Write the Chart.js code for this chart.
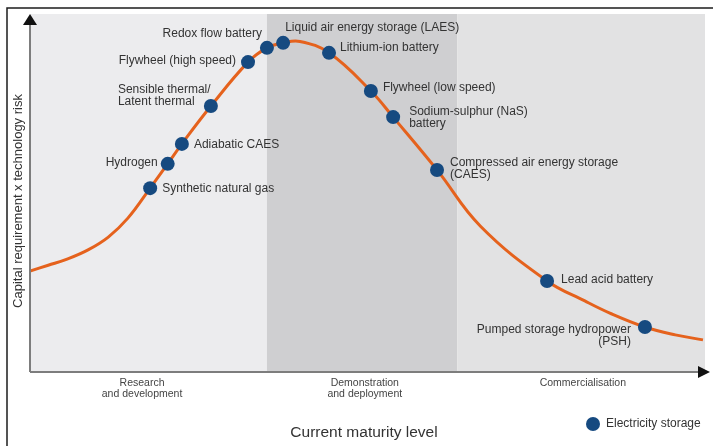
<!DOCTYPE html>
<html>
<head>
<meta charset="utf-8">
<title>Electricity storage maturity curve</title>
<script src="https://cdn.jsdelivr.net/npm/chart.js@4"></script>
<style>
  html, body { margin: 0; padding: 0; background: #fff; }
  canvas { display: block; }
</style>
</head>
<body>
<canvas id="maturityChart" width="713" height="446"></canvas>
<script>
// technologies placed on the curve (maturity 0-100, capital x risk 0-100)
const technologies = [
  'Synthetic natural gas',
  'Hydrogen',
  'Adiabatic CAES',
  'Sensible thermal/\nLatent thermal',
  'Flywheel (high speed)',
  'Redox flow battery',
  'Liquid air energy storage (LAES)',
  'Lithium-ion battery',
  'Flywheel (low speed)',
  'Sodium-sulphur (NaS)\nbattery',
  'Compressed air energy storage\n(CAES)',
  'Lead acid battery',
  'Pumped storage hydropower\n(PSH)'
]
const maturity = [17.8, 20.4, 22.5, 26.8, 32.3, 35.1, 37.5, 44.3, 50.5, 53.8, 60.3, 76.6, 91.1]
const capitalRisk = [51.5, 58.3, 63.9, 74.5, 86.8, 90.8, 92.2, 89.4, 78.7, 71.4, 56.6, 25.5, 12.6]

// the orange maturity curve
const curveMaturity = [
  0, 2.7, 5.6, 8.6, 11.6, 14.5, 17.8, 20.4, 22.5, 26.8, 32.3, 35.1, 37.5, 40.0,
  44.3, 50.5, 53.8, 60.3, 66.7, 76.6, 82.2, 85.9, 91.1, 95.6, 99.7
]
const curveCapitalRisk = [
  28.3, 29.9, 31.7, 34.2, 37.8, 43.1, 51.5, 58.3, 63.9, 74.5, 86.8, 90.8, 92.2, 92.6,
  89.4, 78.7, 71.4, 56.6, 40.9, 25.5, 19.9, 16.5, 12.6, 10.4, 9.0
]

// maturity stages along the x axis
const stages = ['Research\nand development', 'Demonstration\nand deployment', 'Commercialisation']
const stageEdges = [0, 35.1, 63.3, 100]
const stageLabelAt = [16.6, 49.6, 81.9]

const xTitle = 'Current maturity level'
const yTitle = 'Capital requirement x technology risk'
const legendLabel = 'Electricity storage'

const FONT = '"Liberation Sans", Arial, sans-serif'
const NAVY = '#164a80'
const ORANGE = '#e5621d'
const stageColors = ['#ececee', '#cfcfd1', '#e2e2e3']

// where each technology label sits relative to its dot
const labelSpots = [
  { dx: 12, dy: 1, align: 'left' },
  { dx: -10, dy: -1, align: 'right' },
  { dx: 12, dy: 1, align: 'left' },
  { dx: -93, dy: -16, align: 'left' },
  { dx: -12, dy: -1, align: 'right' },
  { dx: -5, dy: -14, align: 'right' },
  { dx: 2, dy: -15, align: 'left' },
  { dx: 11, dy: -5, align: 'left' },
  { dx: 12, dy: -3, align: 'left' },
  { dx: 16, dy: -5, align: 'left' },
  { dx: 13, dy: -7, align: 'left' },
  { dx: 14, dy: -1, align: 'left' },
  { dx: -14, dy: 3, align: 'right' }
]

function drawLines(ctx, text, x, y, lineHeight) {
  text.split('\n').forEach((line, i) => ctx.fillText(line, x, y + i * lineHeight))
}

// shaded stage bands behind the curve
const stageBands = {
  id: 'stageBands',
  beforeDatasetsDraw(chart) {
    const { ctx, chartArea, scales } = chart
    ctx.save()
    for (let i = 0; i < stages.length; i++) {
      const x0 = scales.x.getPixelForValue(stageEdges[i])
      const x1 = scales.x.getPixelForValue(stageEdges[i + 1])
      ctx.fillStyle = stageColors[i]
      ctx.fillRect(x0, chartArea.top - 1, x1 - x0, chartArea.bottom - chartArea.top + 1)
    }
    ctx.restore()
  }
}

// axes with arrows, titles, stage names, dot labels, legend and frame
const decorations = {
  id: 'decorations',
  afterDatasetsDraw(chart) {
    const { ctx, chartArea, scales } = chart
    const left = chartArea.left
    const bottom = chartArea.bottom
    ctx.save()

    // axis lines
    ctx.strokeStyle = '#7d7d7d'
    ctx.lineWidth = 2
    ctx.beginPath()
    ctx.moveTo(left, bottom)
    ctx.lineTo(left, chartArea.top + 9)
    ctx.moveTo(left, bottom)
    ctx.lineTo(chartArea.right - 6, bottom)
    ctx.stroke()

    ctx.fillStyle = '#111'
    ctx.beginPath()
    ctx.moveTo(left, chartArea.top - 1)
    ctx.lineTo(left - 7, chartArea.top + 10)
    ctx.lineTo(left + 7, chartArea.top + 10)
    ctx.closePath()
    ctx.fill()
    ctx.beginPath()
    ctx.moveTo(chartArea.right + 5, bottom)
    ctx.lineTo(chartArea.right - 7, bottom - 6)
    ctx.lineTo(chartArea.right - 7, bottom + 6)
    ctx.closePath()
    ctx.fill()

    // technology labels
    ctx.fillStyle = '#333'
    ctx.font = '12px ' + FONT
    ctx.textBaseline = 'middle'
    technologies.forEach((name, i) => {
      const spot = labelSpots[i]
      const px = scales.x.getPixelForValue(maturity[i])
      const py = scales.y.getPixelForValue(capitalRisk[i])
      ctx.textAlign = spot.align
      drawLines(ctx, name, px + spot.dx, py + spot.dy, 12)
    })

    // stage names under the x axis
    ctx.fillStyle = '#444'
    ctx.font = '10.5px ' + FONT
    ctx.textAlign = 'center'
    stages.forEach((name, i) => {
      drawLines(ctx, name, scales.x.getPixelForValue(stageLabelAt[i]), bottom + 11, 11)
    })

    // axis titles
    ctx.fillStyle = '#333'
    ctx.font = '15.5px ' + FONT
    ctx.fillText(xTitle, 364, 433)
    ctx.save()
    ctx.translate(18, 201)
    ctx.rotate(-Math.PI / 2)
    ctx.font = '13px ' + FONT
    ctx.fillText(yTitle, 0, 0)
    ctx.restore()

    // legend
    ctx.fillStyle = NAVY
    ctx.beginPath()
    ctx.arc(593, 424, 7, 0, Math.PI * 2)
    ctx.fill()
    ctx.fillStyle = '#333'
    ctx.font = '12px ' + FONT
    ctx.textAlign = 'left'
    ctx.fillText(legendLabel, 606, 424)

    // frame
    ctx.strokeStyle = '#1c1c1c'
    ctx.lineWidth = 1.5
    ctx.beginPath()
    ctx.moveTo(713, 8)
    ctx.lineTo(7, 8)
    ctx.lineTo(7, 446)
    ctx.stroke()

    ctx.restore()
  }
}

const ctx = document.getElementById('maturityChart').getContext('2d')

new Chart(ctx, {
  type: 'line',
  data: {
    datasets: [
      {
        label: legendLabel,
        data: maturity.map((m, i) => ({ x: m, y: capitalRisk[i] })),
        showLine: false,
        pointRadius: 7,
        pointBackgroundColor: NAVY,
        pointBorderWidth: 0,
        order: 0
      },
      {
        label: 'maturity curve',
        data: curveMaturity.map((m, i) => ({ x: m, y: curveCapitalRisk[i] })),
        borderColor: ORANGE,
        borderWidth: 3,
        pointRadius: 0,
        tension: 0.4,
        order: 1
      }
    ]
  },
  options: {
    responsive: false,
    animation: false,
    layout: { padding: { left: 30, right: 8, top: 15, bottom: 74 } },
    scales: {
      x: { type: 'linear', min: 0, max: 100, display: false },
      y: { type: 'linear', min: 0, max: 100, display: false }
    },
    plugins: {
      legend: { display: false },
      tooltip: { enabled: false }
    }
  },
  plugins: [stageBands, decorations]
})
</script>
</body>
</html>
